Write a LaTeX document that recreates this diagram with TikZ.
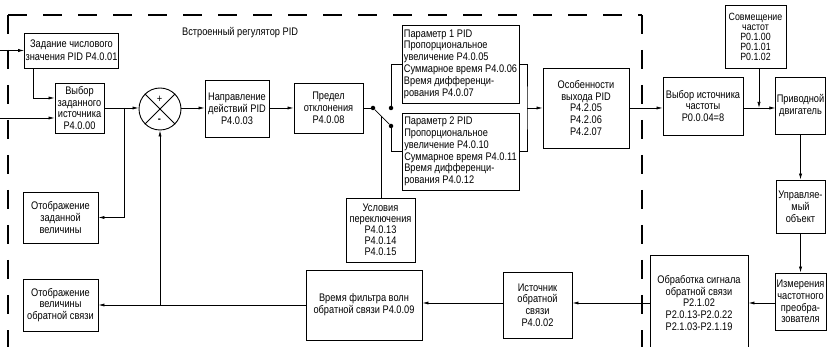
\documentclass[tikz,border=0pt]{standalone}
\usepackage{fontspec}
\setmainfont[FakeStretch=0.84]{Liberation Sans}
\usetikzlibrary{arrows.meta}
\begin{document}
\begin{tikzpicture}[x=1pt,y=-1pt, font=\fontsize{11}{11.8}\selectfont,
  box/.style={draw, line width=0.9pt, align=center, inner sep=1pt},
  lbox/.style={draw, line width=0.9pt, align=left, inner sep=1pt, minimum width=117pt},
  arr/.style={-{Latex[length=6pt,width=3.2pt]}, line width=0.7pt},
  ln/.style={line width=0.7pt},
  cdot/.style={circle, fill, inner sep=0pt, minimum size=4.5pt},
  border/.style={line width=1.2pt, dash pattern=on 19pt off 16pt}]
\useasboundingbox (0,0) rectangle (827,347);

% dashed border of the built-in regulator
\coordinate (bl) at (8,347);
\coordinate (tl) at (8,15);
\coordinate (tr) at (642,15);
\coordinate (br) at (642,347);
\draw[border] (tl) -- (tr);
\draw[border] (tl) -- (bl);
\draw[border] (tr) -- (br);
\node[anchor=west, inner sep=0pt] (lbl) at (182,33) {Встроенный регулятор PID};

% boxes
\node[box, minimum width=91pt, minimum height=35pt] (zad) at (71.5,50.5) {Задание числового\\[1pt]значения PID P4.0.01};
\node[box, minimum width=49pt, minimum height=50pt] (vyb) at (79.5,108) {Выбор\\заданного\\источника\\P4.0.00};
\node[draw, circle, line width=0.9pt, minimum size=42pt, inner sep=0pt] (sum) at (160,109) {};
\draw[line width=0.9pt] (sum.north west) -- (sum.south east);
\draw[line width=0.9pt] (sum.north east) -- (sum.south west);
\node[inner sep=0pt] (plus) at (159.5,99) {+};
\node[inner sep=0pt] (minus) at (159.5,121) {\textbf{-}};
\node[box, minimum width=64pt, minimum height=57pt] (napr) at (237,108.5) {Направление\\действий PID\\P4.0.03};
\node[box, minimum width=69pt, minimum height=50pt] (pred) at (328.5,108) {Предел\\отклонения\\P4.0.08};
\node[lbox, minimum height=78pt] (pid1) at (460.5,64) {Параметр 1 PID\\Пропорциональное\\увеличение P4.0.05\\Суммарное время P4.0.06\\Время дифференци-\\рования P4.0.07};
\node[lbox, minimum height=77pt] (pid2) at (460.5,151.5) {Параметр 2 PID\\Пропорциональное\\увеличение P4.0.10\\Суммарное время P4.0.11\\Время дифференци-\\рования P4.0.12};
\node[box, minimum width=69pt, minimum height=64pt, font=\fontsize{11}{11}\selectfont] (usl) at (380.5,230) {Условия\\переключения\\P4.0.13\\P4.0.14\\P4.0.15};
\node[box, minimum width=86pt, minimum height=80pt] (osob) at (586,108) {Особенности\\выхода PID\\P4.2.05\\P4.2.06\\P4.2.07};
\node[box, minimum width=80pt, minimum height=58pt] (vybist) at (703,106) {Выбор источника\\частоты\\P0.0.04=8};
\node[box, minimum width=61pt, minimum height=63pt, font=\fontsize{10.5}{10}\selectfont] (sovm) at (755.5,36.5) {Совмещение\\частот\\P0.1.00\\P0.1.01\\P0.1.02};
\node[box, minimum width=49pt, minimum height=57pt] (priv) at (800.5,105.5) {Приводной\\двигатель};
\node[box, minimum width=49pt, minimum height=53pt] (upr) at (800.5,206.5) {Управляе-\\мый\\объект};
\node[box, minimum width=51pt, minimum height=57pt] (izm) at (800.5,301.5) {Измерения\\частотного\\преобра-\\зователя};
\node[box, minimum width=98pt, minimum height=96pt] (obr) at (699,303) {Обработка сигнала\\обратной связи\\P2.1.02\\P2.0.13-P2.0.22\\P2.1.03-P2.1.19};
\node[box, minimum width=69pt, minimum height=66pt] (ist) at (537.5,305) {Источник\\обратной\\связи\\P4.0.02};
\node[box, minimum width=116pt, minimum height=70pt] (vrem) at (364,305) {Время фильтра волн\\обратной связи P4.0.09};
\node[box, minimum width=75pt, minimum height=51pt] (otz) at (60.5,217.5) {Отображение\\заданной\\величины};
\node[box, minimum width=75pt, minimum height=52pt] (otos) at (60.5,305) {Отображение\\величины\\обратной связи};

% inputs
\coordinate (in1) at (0,50.5);
\coordinate (in2) at (0,118);
\draw[arr] (in1) -- (zad.west);
\draw[arr] (in2) -- (vyb.west |- in2);
\coordinate (zb) at (33,68);
\draw[arr] (zad.south -| zb) |- (vyb.west |- 0,98);

% forward path
\coordinate (br1) at (124,108);
\draw[arr] (vyb.east |- br1) -- (sum.west |- br1);
\draw[arr] (br1) |- (otz.east);
\draw[arr] (sum.east |- br1) -- (napr.west |- br1);
\draw[arr] (napr.east |- br1) -- (pred.west |- br1);

% switch
\node[cdot] (s0) at (373,108) {};
\node[cdot] (p1) at (391,108) {};
\node[cdot] (p2) at (391,126) {};
\draw[ln] (pred.east |- s0) -- (s0);
\draw[ln] (s0) -- (p2);
\coordinate (lev) at (381,116);
\draw[ln] (lev) -- (usl.north -| lev);
\draw[ln] (p1) |- (pid1.west);
\draw[ln] (p2) |- (pid2.west);
\coordinate (rj) at (527,108);
\draw[ln] (pid1.east) -| (rj) |- (pid2.east);
\draw[arr] (rj) -- (osob.west |- rj);

% right side
\draw[arr] (osob.east |- rj) -- (vybist.west |- rj);
\draw[arr] (vybist.east |- rj) -- (priv.west |- rj);
\coordinate (sv) at (759,68);
\draw[arr] (sv) -- (sv |- rj);
\draw[arr] (priv.south) -- (upr.north);
\draw[arr] (upr.south) -- (izm.north);

% feedback path
\coordinate (fb) at (0,303);
\draw[arr] (izm.west |- fb) -- (obr.east |- fb);
\draw[arr] (obr.west |- fb) -- (ist.east |- fb);
\draw[arr] (ist.west |- fb) -- (vrem.east |- fb);
\coordinate (fb2) at (160,305);
\draw[arr] (vrem.west |- fb2) -- (otos.east |- fb2);
\draw[arr] (fb2) -- (sum.south);
\end{tikzpicture}
\end{document}
